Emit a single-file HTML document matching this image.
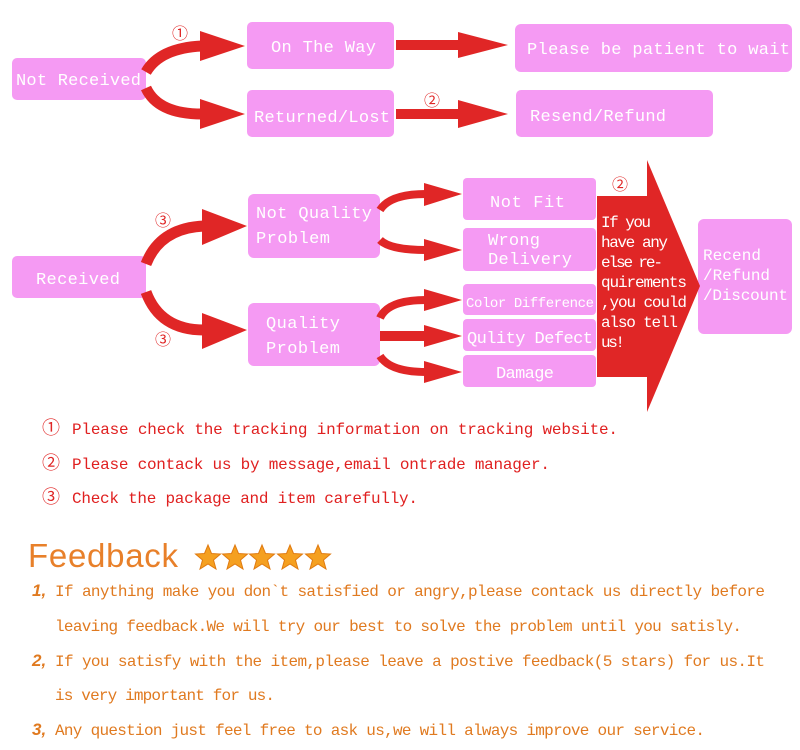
<!DOCTYPE html>
<html><head><meta charset="utf-8"><style>
html,body{margin:0;padding:0;background:#fff;width:800px;height:750px;overflow:hidden}
svg{display:block}
.b{fill:#f59af3}
.t{fill:#fff;font-family:"Liberation Mono",monospace;font-size:17px}
.r{fill:#e02626}
.c{fill:#e02626;font-family:"Liberation Sans","Noto Sans CJK JP",sans-serif;font-size:16px}
.n{fill:#e02020;font-family:"Liberation Mono",monospace;font-size:16px}
.f{fill:#e07a20;font-family:"Liberation Mono",monospace;font-size:16px}
.k{fill:#e07a20;font-family:"Liberation Sans",sans-serif;font-size:17px;font-weight:bold;font-style:italic}
</style></head><body>
<svg width="800" height="750" viewBox="0 0 800 750" xmlns="http://www.w3.org/2000/svg">
<rect class="b" x="12" y="58" width="134" height="42" rx="5"/>
<rect class="b" x="247" y="22" width="147" height="47" rx="5"/>
<rect class="b" x="515" y="24" width="277" height="48" rx="6"/>
<rect class="b" x="247" y="90" width="147" height="47" rx="5"/>
<rect class="b" x="516" y="90" width="197" height="47" rx="5"/>
<rect class="b" x="12" y="256" width="134" height="42" rx="5"/>
<rect class="b" x="248" y="194" width="132" height="64" rx="6"/>
<rect class="b" x="248" y="303" width="132" height="63" rx="6"/>
<rect class="b" x="463" y="178" width="133" height="42" rx="4"/>
<rect class="b" x="463" y="228" width="133" height="43" rx="4"/>
<rect class="b" x="463" y="284" width="133" height="31" rx="4"/>
<rect class="b" x="463" y="319" width="133" height="32" rx="4"/>
<rect class="b" x="463" y="355" width="133" height="32" rx="4"/>
<rect class="b" x="698" y="219" width="94" height="115" rx="6"/>
<rect class="r" x="597" y="196" width="52" height="181"/>
<polygon class="r" points="647,160 700,286 647,412"/>
<g fill="none" stroke="#e02626" stroke-width="11">
<path d="M146,72 Q160,48 202,46"/>
<path d="M146,88 Q158,114 202,114"/>
<path d="M146,264 Q160,228 204,226"/>
<path d="M146,292 Q160,330 204,330"/>
</g>
<g fill="none" stroke="#e02626" stroke-width="8">
<path d="M380,210 Q390,194 426,194"/>
<path d="M380,240 Q390,250 426,250"/>
<path d="M380,318 Q388,300 426,300"/>
<path d="M380,356 Q390,372 426,372"/>
</g>
<rect class="r" x="396" y="40" width="64" height="10"/>
<rect class="r" x="396" y="109" width="64" height="10"/>
<rect class="r" x="380" y="331" width="46" height="10"/>
<polygon class="r" points="200,31 245,46 200,61"/>
<polygon class="r" points="200,99 245,114 200,129"/>
<polygon class="r" points="458,32 508,45 458,58"/>
<polygon class="r" points="458,100 508,114 458,128"/>
<polygon class="r" points="202,209 247,226 202,245"/>
<polygon class="r" points="202,313 247,330 202,349"/>
<polygon class="r" points="424,183 462,194 424,206"/>
<polygon class="r" points="424,239 462,250 424,261"/>
<polygon class="r" points="424,289 462,300 424,311"/>
<polygon class="r" points="424,325 462,336 424,347"/>
<polygon class="r" points="424,361 462,372 424,383"/>
<text class="c" x="172" y="39">①</text>
<text class="c" x="424" y="106">②</text>
<text class="c" x="155" y="226">③</text>
<text class="c" x="155" y="345">③</text>
<text class="c" x="612" y="190">②</text>
<text class="t" x="16" y="85" textLength="125">Not Received</text>
<text class="t" x="271" y="52" textLength="105">On The Way</text>
<text class="t" x="527" y="54" textLength="263">Please be patient to wait</text>
<text class="t" x="254" y="122" textLength="136">Returned/Lost</text>
<text class="t" x="530" y="121" textLength="136">Resend/Refund</text>
<text class="t" x="36" y="284" textLength="84">Received</text>
<text class="t" x="256" y="218" textLength="116">Not Quality</text>
<text class="t" x="256" y="243" textLength="74">Problem</text>
<text class="t" x="266" y="328" textLength="74">Quality</text>
<text class="t" x="266" y="353" textLength="74">Problem</text>
<text class="t" x="490" y="207" textLength="75">Not Fit</text>
<text class="t" x="488" y="245" textLength="52">Wrong</text>
<text class="t" x="488" y="264" textLength="84">Delivery</text>
<text class="t" x="466" y="307" textLength="128" style="font-size:14px">Color Difference</text>
<text class="t" x="467" y="343" textLength="126">Qulity Defect</text>
<text class="t" x="496" y="378" textLength="58">Damage</text>
<g class="t" style="font-size:16px">
<text x="601" y="227" textLength="50">If you</text>
<text x="601" y="247" textLength="67">have any</text>
<text x="601" y="267" textLength="62">else re-</text>
<text x="601" y="287" textLength="86">quirements</text>
<text x="601" y="307" textLength="86">,you could</text>
<text x="601" y="327" textLength="77">also tell</text>
<text x="601" y="347" textLength="24">us!</text>
<text x="703" y="260" textLength="58">Recend</text>
<text x="703" y="280" textLength="67">/Refund</text>
<text x="703" y="300" textLength="85">/Discount</text>
</g>
<text class="c" x="42" y="434" style="font-size:18px">①</text>
<text class="c" x="42" y="469" style="font-size:18px">②</text>
<text class="c" x="42" y="503" style="font-size:18px">③</text>
<text class="n" x="72" y="434" textLength="546">Please check the tracking information on tracking website.</text>
<text class="n" x="72" y="469" textLength="478">Please contack us by message,email ontrade manager.</text>
<text class="n" x="72" y="503" textLength="346">Check the package and item carefully.</text>
<text x="28" y="567" style="fill:#e8802a;font-family:'Liberation Sans',sans-serif;font-size:33px" textLength="150">Feedback</text>
<g fill="#f5a020" stroke="#e07a10" stroke-width="1">
<polygon points="208,545 211.5,553.5 220.5,554 213.5,560 216,569 208,564 200,569 202.5,560 195.5,554 204.5,553.5"/>
<polygon points="235,545 238.5,553.5 247.5,554 240.5,560 243,569 235,564 227,569 229.5,560 222.5,554 231.5,553.5"/>
<polygon points="262,545 265.5,553.5 274.5,554 267.5,560 270,569 262,564 254,569 256.5,560 249.5,554 258.5,553.5"/>
<polygon points="290,545 293.5,553.5 302.5,554 295.5,560 298,569 290,564 282,569 284.5,560 277.5,554 286.5,553.5"/>
<polygon points="318,545 321.5,553.5 330.5,554 323.5,560 326,569 318,564 310,569 312.5,560 305.5,554 314.5,553.5"/>
</g>
<text class="k" x="32" y="596">1,</text>
<text class="k" x="32" y="666">2,</text>
<text class="k" x="32" y="735">3,</text>
<text class="f" x="55" y="596" textLength="710">If anything make you don`t satisfied or angry,please contack us directly before</text>
<text class="f" x="55" y="631" textLength="687">leaving feedback.We will try our best to solve the problem until you satisly.</text>
<text class="f" x="55" y="666" textLength="710">If you satisfy with the item,please leave a postive feedback(5 stars) for us.It</text>
<text class="f" x="55" y="700" textLength="220">is very important for us.</text>
<text class="f" x="55" y="735" textLength="650">Any question just feel free to ask us,we will always improve our service.</text>
</svg>
</body></html>
